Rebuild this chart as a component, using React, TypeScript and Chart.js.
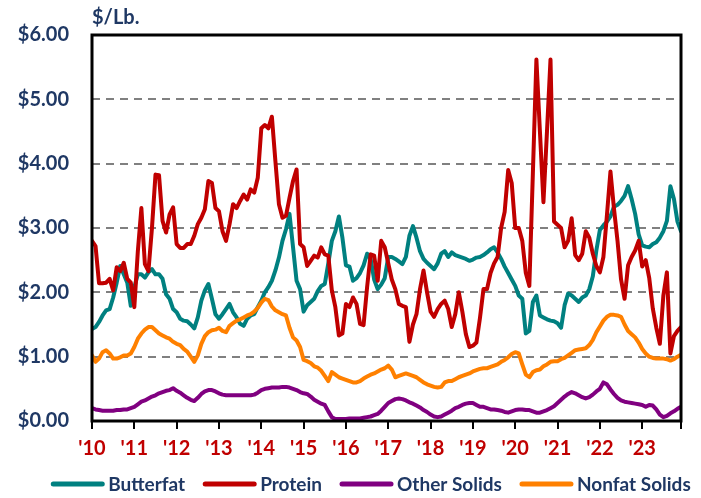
import React, { useEffect, useRef } from 'react';
import { Chart, registerables } from 'chart.js';

Chart.register(...registerables);

// Monthly component prices, Jan 2010 – Dec 2023 ($/lb), one row per year
const butterfat = [
  1.43, 1.46, 1.54, 1.64, 1.72, 1.74, 1.92, 2.15, 2.41, 2.28, 2.15, 1.79,
  2.08, 2.28, 2.28, 2.23, 2.31, 2.36, 2.28, 2.28, 2.21, 1.97, 1.90, 1.74,
  1.69, 1.59, 1.56, 1.55, 1.50, 1.44, 1.61, 1.87, 2.03, 2.13, 1.90, 1.66,
  1.59, 1.66, 1.74, 1.82, 1.69, 1.61, 1.51, 1.48, 1.59, 1.64, 1.66, 1.77,
  1.87, 2.00, 2.08, 2.18, 2.34, 2.54, 2.80, 2.98, 3.22, 2.70, 2.18, 2.05,
  1.70, 1.80, 1.85, 1.90, 2.02, 2.10, 2.13, 2.45, 2.80, 2.95, 3.18, 2.85,
  2.42, 2.40, 2.18, 2.22, 2.30, 2.42, 2.60, 2.52, 2.20, 2.05, 2.12, 2.22,
  2.55, 2.55, 2.52, 2.48, 2.44, 2.55, 2.88, 3.03, 2.85, 2.64, 2.52, 2.46,
  2.41, 2.36, 2.45, 2.60, 2.64, 2.55, 2.62, 2.58, 2.56, 2.54, 2.52, 2.49,
  2.51, 2.54, 2.55, 2.58, 2.62, 2.67, 2.70, 2.62, 2.52, 2.40, 2.30, 2.20,
  2.10, 1.95, 1.90, 1.36, 1.40, 1.85, 1.95, 1.64, 1.61, 1.58, 1.56, 1.55,
  1.52, 1.45, 1.80, 1.98, 1.95, 1.90, 1.85, 1.92, 1.95, 2.05, 2.25, 2.65,
  2.97, 3.04, 3.10, 3.18, 3.33, 3.36, 3.42, 3.50, 3.65, 3.45, 3.22, 2.90,
  2.73, 2.71, 2.70, 2.75, 2.78, 2.85, 2.95, 3.11, 3.65, 3.45, 3.10, 2.95,
];

const protein = [
  2.80, 2.72, 2.14, 2.14, 2.15, 2.21, 2.03, 2.39, 2.33, 2.46, 2.21, 2.15,
  1.77, 2.64, 3.31, 2.44, 2.33, 3.00, 3.83, 3.82, 3.11, 2.93, 3.21, 3.32,
  2.75, 2.69, 2.69, 2.75, 2.75, 2.88, 3.06, 3.16, 3.29, 3.73, 3.70, 3.31,
  3.26, 2.95, 2.80, 3.06, 3.37, 3.31, 3.42, 3.52, 3.44, 3.60, 3.55, 3.78,
  4.55, 4.60, 4.55, 4.73, 4.04, 3.37, 3.16, 3.19, 3.47, 3.73, 3.91, 2.75,
  2.70, 2.41, 2.49, 2.57, 2.54, 2.70, 2.59, 2.57, 2.03, 1.77, 1.33, 1.36,
  1.82, 1.77, 1.92, 1.82, 1.51, 1.49, 2.08, 2.59, 2.57, 2.18, 2.80, 2.70,
  2.45, 2.20, 2.05, 1.82, 1.79, 1.77, 1.23, 1.50, 1.66, 2.05, 2.34, 2.00,
  1.70, 1.62, 1.74, 1.82, 1.87, 1.74, 1.46, 1.66, 2.00, 1.70, 1.35, 1.15,
  1.17, 1.22, 1.60, 2.05, 2.05, 2.30, 2.45, 2.55, 3.00, 3.25, 3.90, 3.70,
  3.00, 3.00, 2.80, 2.30, 2.10, 3.85, 5.62, 4.50, 3.40, 4.50, 5.62, 3.10,
  3.05, 3.00, 2.70, 2.80, 3.15, 2.58, 2.50, 2.60, 2.95, 2.85, 2.60, 2.41,
  2.31, 2.55, 3.20, 3.88, 3.30, 2.80, 2.20, 1.90, 2.42, 2.55, 2.65, 2.80,
  2.40, 2.50, 2.22, 1.75, 1.45, 1.20, 1.95, 2.31, 1.05, 1.32, 1.40, 1.46,
];

const otherSolids = [
  0.20, 0.18, 0.17, 0.16, 0.16, 0.16, 0.16, 0.17, 0.17, 0.18, 0.18, 0.20,
  0.22, 0.26, 0.30, 0.32, 0.35, 0.38, 0.40, 0.43, 0.45, 0.47, 0.48, 0.51,
  0.47, 0.44, 0.40, 0.36, 0.33, 0.31, 0.36, 0.42, 0.46, 0.48, 0.48, 0.46,
  0.43, 0.41, 0.40, 0.40, 0.40, 0.40, 0.40, 0.40, 0.40, 0.40, 0.41, 0.44,
  0.48, 0.50, 0.51, 0.52, 0.52, 0.52, 0.53, 0.53, 0.52, 0.50, 0.48, 0.45,
  0.43, 0.42, 0.38, 0.33, 0.30, 0.27, 0.25, 0.15, 0.06, 0.03, 0.03, 0.03,
  0.03, 0.04, 0.04, 0.04, 0.04, 0.05, 0.06, 0.07, 0.09, 0.11, 0.16, 0.22,
  0.28, 0.31, 0.34, 0.35, 0.34, 0.32, 0.29, 0.27, 0.24, 0.21, 0.17, 0.14,
  0.10, 0.07, 0.06, 0.07, 0.10, 0.13, 0.16, 0.20, 0.22, 0.25, 0.27, 0.28,
  0.28, 0.25, 0.22, 0.22, 0.20, 0.18, 0.18, 0.17, 0.16, 0.14, 0.13, 0.15,
  0.17, 0.18, 0.18, 0.17, 0.17, 0.15, 0.13, 0.13, 0.15, 0.17, 0.20, 0.23,
  0.28, 0.33, 0.38, 0.42, 0.45, 0.43, 0.40, 0.37, 0.35, 0.37, 0.41, 0.46,
  0.50, 0.60, 0.57, 0.49, 0.42, 0.36, 0.32, 0.30, 0.29, 0.28, 0.27, 0.26,
  0.25, 0.22, 0.25, 0.24, 0.18, 0.10, 0.06, 0.08, 0.12, 0.15, 0.19, 0.22,
];

const nonfatSolids = [
  1.02, 0.92, 0.97, 1.07, 1.10, 1.05, 0.97, 0.97, 0.99, 1.02, 1.02, 1.05,
  1.15, 1.28, 1.36, 1.42, 1.46, 1.46, 1.41, 1.36, 1.33, 1.30, 1.28, 1.23,
  1.20, 1.18, 1.12, 1.08, 1.00, 0.92, 1.02, 1.20, 1.32, 1.38, 1.41, 1.42,
  1.45, 1.40, 1.38, 1.48, 1.52, 1.56, 1.58, 1.61, 1.64, 1.66, 1.70, 1.76,
  1.84, 1.90, 1.88, 1.78, 1.72, 1.69, 1.66, 1.64, 1.45, 1.30, 1.25, 1.15,
  0.95, 0.93, 0.90, 0.85, 0.83, 0.78, 0.70, 0.62, 0.76, 0.72, 0.68, 0.66,
  0.64, 0.62, 0.60, 0.60, 0.62, 0.66, 0.69, 0.72, 0.74, 0.77, 0.80, 0.82,
  0.86, 0.80, 0.68, 0.70, 0.72, 0.74, 0.72, 0.70, 0.68, 0.64, 0.60, 0.57,
  0.55, 0.53, 0.52, 0.53, 0.60, 0.62, 0.62, 0.65, 0.68, 0.70, 0.72, 0.74,
  0.77, 0.79, 0.81, 0.82, 0.82, 0.84, 0.86, 0.88, 0.92, 0.95, 0.99, 1.04,
  1.07, 1.05, 0.88, 0.72, 0.68, 0.76, 0.79, 0.80, 0.85, 0.88, 0.92, 0.93,
  0.93, 0.96, 0.98, 1.02, 1.06, 1.10, 1.11, 1.12, 1.13, 1.18, 1.26, 1.38,
  1.47, 1.56, 1.62, 1.65, 1.65, 1.64, 1.62, 1.50, 1.40, 1.35, 1.30, 1.22,
  1.12, 1.05, 1.00, 0.98, 0.97, 0.97, 0.97, 0.96, 0.94, 0.96, 1.00, 1.03,
];

const yearLabels = ["'10", "'11", "'12", "'13", "'14", "'15", "'16", "'17", "'18", "'19", "'20", "'21", "'22", "'23"];
const yTickValues = [0, 1, 2, 3, 4, 5, 6];
const seriesNames = ['Butterfat', 'Protein', 'Other Solids', 'Nonfat Solids'];
const seriesColors = ['#008080', '#C00000', '#800080', '#FF8000'];
const unitLabel = '$/Lb.';

const NAVY = '#1F3864';
const FONT = 'Lato, "Noto Sans", sans-serif';

export default function App() {
  const ref = useRef<HTMLCanvasElement | null>(null);

  useEffect(() => {
    if (!ref.current) return;
    const seriesValues = [butterfat, protein, otherSolids, nonfatSolids];
    const nMonths = butterfat.length;

    const decor = {
      id: 'decor',
      afterDatasetsDraw(chart: any) {
        const { ctx, chartArea } = chart;
        const { left, top, right, bottom } = chartArea;
        ctx.save();
        ctx.strokeStyle = '#000';
        ctx.lineWidth = 3;
        ctx.strokeRect(left, top, right - left, bottom - top);
        ctx.restore();
      },
      afterDraw(chart: any) {
        const { ctx, chartArea } = chart;
        ctx.save();
        // unit title
        ctx.fillStyle = NAVY;
        ctx.font = `bold 20px ${FONT}`;
        ctx.textAlign = 'left';
        ctx.textBaseline = 'alphabetic';
        ctx.fillText(unitLabel, chartArea.left, chartArea.top - 11);
        // legend
        ctx.font = `bold 19px ${FONT}`;
        const lineW = 53, gap = 4, spacing = 18;
        const widths = seriesNames.map((n) => ctx.measureText(n).width);
        const total = widths.reduce((s, w) => s + lineW + gap + w, 0) + spacing * (seriesNames.length - 1);
        let x = 371 - total / 2;
        const y = 484;
        seriesNames.forEach((name, k) => {
          ctx.strokeStyle = seriesColors[k];
          ctx.lineWidth = 5;
          ctx.lineCap = 'round';
          ctx.beginPath();
          ctx.moveTo(x + 2, y);
          ctx.lineTo(x + lineW - 2, y);
          ctx.stroke();
          ctx.fillStyle = NAVY;
          ctx.textBaseline = 'middle';
          ctx.fillText(name, x + lineW + gap, y + 1);
          x += lineW + gap + widths[k] + spacing;
        });
        ctx.restore();
      },
    };

    const chart = new Chart(ref.current, {
      type: 'line',
      data: {
        datasets: seriesNames.map((name, k) => ({
          label: name,
          data: seriesValues[k].map((v, i) => ({ x: i, y: v })),
          borderColor: seriesColors[k],
          backgroundColor: seriesColors[k],
          borderWidth: 4,
          pointRadius: 0,
          tension: 0,
          borderJoinStyle: 'round' as const,
          borderCapStyle: 'round' as const,
          order: seriesNames.length - k,
        })),
      },
      options: {
        responsive: false,
        animation: false,
        devicePixelRatio: 1,
        layout: { padding: { top: 33, right: 20, bottom: 0, left: 0 } },
        plugins: {
          legend: { display: false },
          tooltip: { enabled: false },
        },
        scales: {
          x: {
            type: 'linear',
            min: 0,
            max: nMonths - 1,
            afterBuildTicks: (scale: any) => {
              const t = yearLabels.map((_, k) => ({ value: k * 12 }));
              t.push({ value: nMonths - 1 });
              scale.ticks = t;
            },
            afterFit: (scale: any) => {
              scale.height = 77;
            },
            ticks: {
              autoSkip: false,
              maxRotation: 0,
              padding: 8,
              color: '#C00000',
              font: { family: FONT, size: 20, weight: 'bold' },
              callback: (value: any) => {
                const k = Number(value) / 12;
                return Number.isInteger(k) && k < yearLabels.length ? yearLabels[k] : '';
              },
            },
            grid: {
              drawOnChartArea: false,
              drawTicks: true,
              tickLength: 8,
              color: '#000',
              lineWidth: 2,
            },
            border: { display: false },
          },
          y: {
            min: 0,
            max: 6,
            afterBuildTicks: (scale: any) => {
              scale.ticks = yTickValues.map((v) => ({ value: v }));
            },
            afterFit: (scale: any) => {
              scale.width = 92;
            },
            ticks: {
              padding: 23,
              color: NAVY,
              font: { family: FONT, size: 20, weight: 'bold' },
              callback: (value: any) => '$' + Number(value).toFixed(2),
            },
            grid: {
              drawTicks: false,
              color: '#808080',
              lineWidth: 2,
            },
            border: { display: false, dash: [8, 6] },
          },
        },
      } as any,
      plugins: [decor],
    });

    return () => chart.destroy();
  }, []);

  return (
    <div style={{ position: 'absolute', left: 0, top: 0, width: 701, height: 498, background: '#fff' }}>
      <canvas ref={ref} width={701} height={498} style={{ display: 'block' }} />
    </div>
  );
}
